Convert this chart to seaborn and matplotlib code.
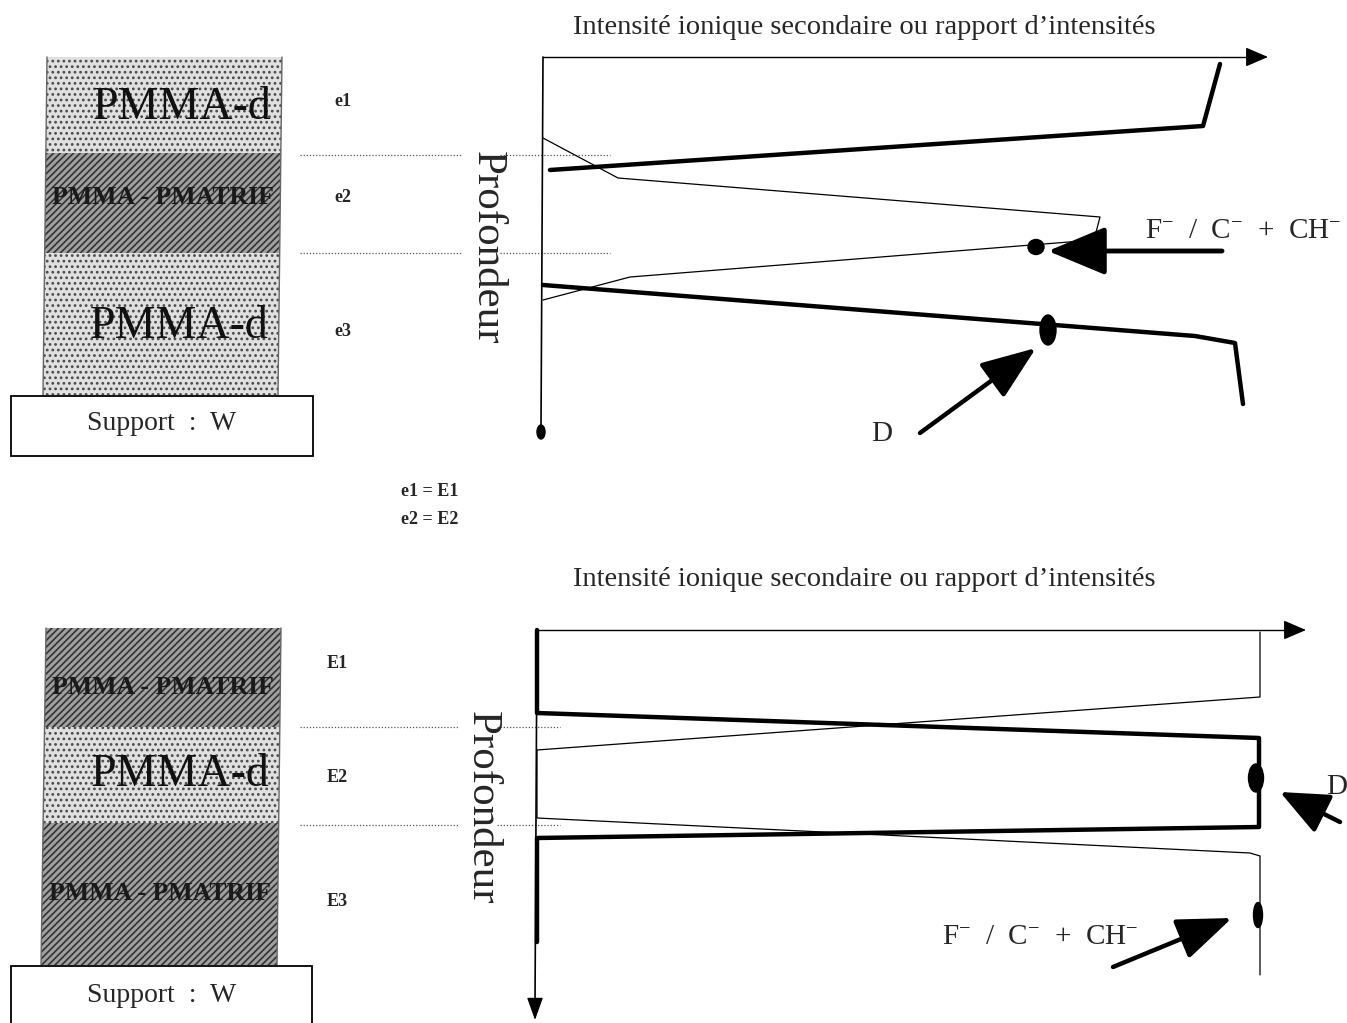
import matplotlib
matplotlib.use("Agg")
import matplotlib.pyplot as plt
from matplotlib.patches import Polygon, Rectangle, Ellipse, FancyArrowPatch
import seaborn as sns
import pandas as pd

# ---------------- data (schematic, drawing units: intensity -> x, depth -> y) -------------
title_text = "Intensité ionique secondaire ou rapport d\u2019intensités"
depth_label = "Profondeur"
ion_label = r"F$^{-}$  /  C$^{-}$  +  CH$^{-}$"

# top panel: stack PMMA-d / PMMA-PMATRIF / PMMA-d
top_layers = ["PMMA-d", "PMMA - PMATRIF", "PMMA-d"]
top_layer_kind = ["light", "dark", "light"]
top_bounds = [57, 153, 253, 395]
top_thick = ["e1", "e2", "e3"]

# bottom panel: stack PMMA-PMATRIF / PMMA-d / PMMA-PMATRIF
bot_layers = ["PMMA - PMATRIF", "PMMA-d", "PMMA - PMATRIF"]
bot_layer_kind = ["dark", "light", "dark"]
bot_bounds = [628, 727, 823, 965]
bot_thick = ["E1", "E2", "E3"]

# profiles, top panel
top_D1_int = [550, 1203, 1220]
top_D1_depth = [170, 126, 64]
top_D2_int = [543, 1195, 1235, 1243]
top_D2_depth = [285, 336, 343, 404]
top_F_int = [543, 618, 1100, 1094, 630, 543]
top_F_depth = [138, 178, 217, 240, 277, 300]

# profiles, bottom panel
bot_D_int = [537, 537, 1259, 1259, 537, 537]
bot_D_depth = [630, 713, 738, 827, 838, 942]
bot_F_int = [1260, 1260, 537, 537, 1250, 1260, 1260]
bot_F_depth = [632, 697, 750, 818, 853, 856, 975]

# ------------------------------------------------------------------------------------------
sns.set_theme(style="white")
plt.rcParams["font.family"] = ["Liberation Serif", "DejaVu Serif"]
plt.rcParams["mathtext.fontset"] = "custom"
plt.rcParams["mathtext.rm"] = "Liberation Serif"
plt.rcParams["mathtext.it"] = "Liberation Serif"
plt.rcParams["hatch.linewidth"] = 1.2

fig = plt.figure(figsize=(13.47, 10.23), dpi=100)
ax = fig.add_axes([0, 0, 1, 1])
ax.set_xlim(0, 1347)
ax.set_ylim(1023, 0)
ax.axis("off")

SERIF = "Liberation Serif"


def stack(bounds, kinds, names, x_left_top, x_left_bot, x_right_top, x_right_bot, label_y):
    h = bounds[-1] - bounds[0]
    def lx(y):
        return x_left_top + (x_left_bot - x_left_top) * (y - bounds[0]) / h
    def rx(y):
        return x_right_top + (x_right_bot - x_right_top) * (y - bounds[0]) / h
    for i, kind in enumerate(kinds):
        y0, y1 = bounds[i], bounds[i + 1]
        pts = [(lx(y0), y0), (rx(y0), y0), (rx(y1), y1), (lx(y1), y1)]
        if kind == "light":
            p = Polygon(pts, closed=True, facecolor="#e0e0e0", edgecolor="#4a4a4a",
                        hatch="...", lw=0)
        else:
            p = Polygon(pts, closed=True, facecolor="#a0a0a0", edgecolor="#333333",
                        hatch="/////", lw=0)
        ax.add_patch(p)
    ax.plot([lx(bounds[0]), lx(bounds[-1])], [bounds[0], bounds[-1]], color="#666", lw=1)
    ax.plot([rx(bounds[0]), rx(bounds[-1])], [bounds[0], bounds[-1]], color="#666", lw=1)
    for i, name in enumerate(names):
        y = label_y[i]
        if name == "PMMA-d":
            ax.text(rx(y) - 10, y, name, ha="right", va="center", fontsize=33,
                    family=SERIF, color="#111")
        else:
            ax.text((lx(y) + rx(y)) / 2, y, name, ha="center", va="center", fontsize=18.5,
                    family=SERIF, weight="bold", color="#1a1a1a")


def support(x0, x1, y0, y1, ty):
    ax.add_patch(Rectangle((x0, y0), x1 - x0, y1 - y0, facecolor="white",
                           edgecolor="black", lw=1.3, zorder=3))
    ax.text((x0 + x1) / 2, ty, "Support  :  W", ha="center", va="center",
            fontsize=20, family=SERIF, zorder=4)


def profile(xs, ys, lw):
    df = pd.DataFrame({"intensite": xs, "profondeur": ys})
    sns.lineplot(data=df, x="intensite", y="profondeur", sort=False, estimator=None,
                 color="black", lw=lw, ax=ax, legend=False)


def arrow(p0, p1, lw=3.5, hl=30, hw=13):
    a = FancyArrowPatch(p0, p1, arrowstyle=f"-|>,head_length={hl},head_width={hw}",
                        mutation_scale=1, lw=lw, color="black", shrinkA=0, shrinkB=0)
    ax.add_patch(a)


# ================= TOP PANEL =================
stack(top_bounds, top_layer_kind, top_layers, 47, 43, 282, 278, [108, 198, 327])
support(11, 313, 396, 456, 424)
for name, y in zip(top_thick, [101, 198, 331]):
    ax.text(343, y, name, ha="center", va="center", fontsize=13, weight="bold", family=SERIF)

for y in [155, 253]:
    ax.plot([300, 462], [y, y], color="#555", lw=0.9, ls=(0, (1, 1.5)))
    ax.plot([500, 610], [y, y], color="#555", lw=0.9, ls=(0, (1, 1.5)))

ax.text(487, 248, depth_label, rotation=-90, ha="center", va="center", fontsize=31, family=SERIF)
ax.text(864, 27, title_text, ha="center", va="center", fontsize=20.5, family=SERIF)

ax.plot([543, 1256], [57, 57], color="black", lw=1)
arrow((1250, 57), (1268, 57), lw=1, hl=14, hw=6)
ax.plot([543, 541], [57, 428], color="black", lw=1.2)
ax.add_patch(Ellipse((541, 432), 8, 14, color="black"))

profile(top_D1_int, top_D1_depth, 3.2)
profile(top_D2_int, top_D2_depth, 3.2)
profile(top_F_int, top_F_depth, 0.9)
ax.add_patch(Ellipse((1036, 247), 16, 15, color="black", zorder=5))
ax.add_patch(Ellipse((1048, 330), 16, 30, color="black", zorder=5))

arrow((1222, 251), (1048, 251), lw=3.5, hl=36, hw=15)
ax.text(1243, 231, ion_label, ha="center", va="center", fontsize=21, family=SERIF)
arrow((920, 433), (1036, 348), lw=3.2, hl=34, hw=13)
ax.text(882, 434, "D", ha="center", va="center", fontsize=21, family=SERIF)

ax.text(430, 492, "e1 = E1", ha="center", va="center", fontsize=13, weight="bold", family=SERIF)
ax.text(430, 519, "e2 = E2", ha="center", va="center", fontsize=13, weight="bold", family=SERIF)

# ================= BOTTOM PANEL =================
stack(bot_bounds, bot_layer_kind, bot_layers, 46, 41, 281, 277, [688, 775, 893])
support(11, 312, 966, 1040, 996)
for name, y in zip(bot_thick, [663, 778, 902]):
    ax.text(337, y, name, ha="center", va="center", fontsize=13, weight="bold", family=SERIF)

for y in [727, 825]:
    ax.plot([300, 458], [y, y], color="#555", lw=0.9, ls=(0, (1, 1.5)))
    ax.plot([497, 560], [y, y], color="#555", lw=0.9, ls=(0, (1, 1.5)))

ax.text(482, 808, depth_label, rotation=-90, ha="center", va="center", fontsize=31, family=SERIF)
ax.text(864, 580, title_text, ha="center", va="center", fontsize=20.5, family=SERIF)

ax.plot([537, 1295], [630, 630], color="black", lw=1)
arrow((1288, 630), (1306, 630), lw=1, hl=14, hw=6)
ax.plot([537, 535], [630, 1005], color="black", lw=1.2)
arrow((535, 1000), (535, 1020), lw=1, hl=14, hw=5)

profile(bot_D_int, bot_D_depth, 3.2)
profile(bot_F_int, bot_F_depth, 0.9)
ax.add_patch(Ellipse((1256, 778), 15, 28, color="black", zorder=5))
ax.add_patch(Ellipse((1258, 915), 9, 25, color="black", zorder=5))

arrow((1340, 822), (1280, 792), lw=3.2, hl=30, hw=13)
ax.text(1337, 787, "D", ha="center", va="center", fontsize=21, family=SERIF)
arrow((1113, 967), (1232, 918), lw=3.2, hl=34, hw=13)
ax.text(1040, 937, ion_label, ha="center", va="center", fontsize=21, family=SERIF)

fig.savefig("out.png", dpi=100)
